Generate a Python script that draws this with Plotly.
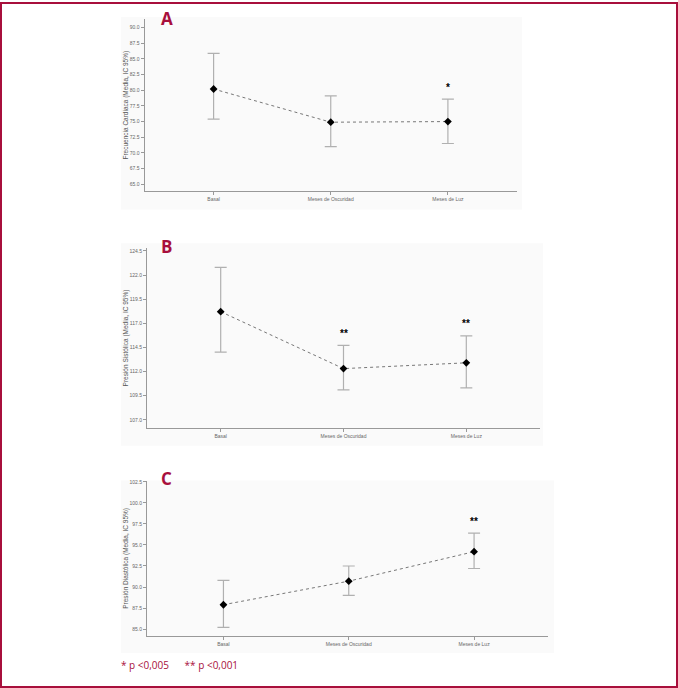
import plotly.graph_objects as go

categories = ["Basal", "Meses de Oscuridad", "Meses de Luz"]

# Panel A: Frecuencia Cardiaca
fc_mean = [80.2, 74.9, 75.0]
fc_low = [75.4, 71.0, 71.5]
fc_high = [85.9, 79.1, 78.6]
fc_sig = ["", "", "*"]

# Panel B: Presión Sistólica
ps_mean = [118.2, 112.3, 112.9]
ps_low = [114.0, 110.1, 110.3]
ps_high = [122.8, 114.7, 115.7]
ps_sig = ["", "**", "**"]

# Panel C: Presión Diastólica
pd_mean = [87.9, 90.7, 94.2]
pd_low = [85.2, 89.0, 92.2]
pd_high = [90.8, 92.5, 96.4]
pd_sig = ["", "", "**"]

panels = [
    dict(letter="A", title="Frecuencia Cardiaca (Media, IC 95%)", mean=fc_mean, low=fc_low, high=fc_high, sig=fc_sig,
         xdom=(144.5, 517), ydom=(17, 190), yrange=(63.84, 91.39), tick0=65, xr=(-0.59, 2.59),
         bg=(121, 15, 522, 208), lpos=(167, 17)),
    dict(letter="B", title="Presión Sistólica (Media, IC 95%)", mean=ps_mean, low=ps_low, high=ps_high, sig=ps_sig,
         xdom=(147, 540), ydom=(247, 427), yrange=(106.17, 124.77), tick0=107, xr=(-0.6, 2.6),
         bg=(121, 242, 543, 445), lpos=(166, 245)),
    dict(letter="C", title="Presión Diastólica (Media, IC 95%)", mean=pd_mean, low=pd_low, high=pd_high, sig=pd_sig,
         xdom=(147, 548), ydom=(480, 636), yrange=(84.17, 102.64), tick0=85, xr=(-0.61, 2.59),
         bg=(121, 480, 554, 653), lpos=(166, 478)),
]

W, H = 678, 688
def px(x):
    return x / W
def py(y):
    return 1 - y / H

CRIMSON = "#a80f3c"
fig = go.Figure()
shapes = []
annotations = []

for i, p in enumerate(panels):
    n = "" if i == 0 else str(i + 1)
    xa, ya = "x" + n, "y" + n
    fig.add_trace(go.Scatter(
        x=categories, y=p["mean"], xaxis=xa, yaxis=ya, mode="lines+markers",
        line=dict(color="#777777", width=1, dash="dot"),
        marker=dict(symbol="diamond", size=6, color="black"),
        error_y=dict(type="data", symmetric=False,
                     array=[h - m for h, m in zip(p["high"], p["mean"])],
                     arrayminus=[m - l for m, l in zip(p["mean"], p["low"])],
                     color="#b0b0b0", thickness=1.2, width=6),
        showlegend=False, hoverinfo="skip"))
    axis_common = dict(showline=True, linecolor="#999999", linewidth=1, ticks="outside",
                       ticklen=3, tickcolor="#999999", showgrid=False, zeroline=False,
                       tickfont=dict(size=5, color="#666666", family="Liberation Sans"))
    fig.update_layout(**{
        ("xaxis" + n): dict(domain=[px(p["xdom"][0]), px(p["xdom"][1])], anchor=ya,
                            type="category", range=list(p["xr"]), **axis_common),
        ("yaxis" + n): dict(domain=[py(p["ydom"][1]), py(p["ydom"][0])], anchor=xa,
                            range=list(p["yrange"]), tick0=p["tick0"], dtick=2.5, tickformat=".1f",
                            title=dict(text=p["title"], font=dict(size=6.5, color="#555555", family="Liberation Sans"),
                                       standoff=0),
                            **axis_common),
    })
    for c, h, s in zip(categories, p["high"], p["sig"]):
        if s:
            annotations.append(dict(x=c, y=h, xref=xa, yref=ya, text="<b>" + s + "</b>", showarrow=False,
                                    yanchor="middle", yshift=12,
                                    font=dict(size=10, color="black", family="Liberation Sans")))
    bx0, by0, bx1, by1 = p["bg"]
    shapes.append(dict(type="rect", xref="paper", yref="paper", x0=px(bx0), x1=px(bx1), y0=py(by1), y1=py(by0),
                       fillcolor="#fafafa", line=dict(width=0), layer="below"))
    annotations.append(dict(x=px(p["lpos"][0]), y=py(p["lpos"][1]), xref="paper", yref="paper",
                            text="<b>" + p["letter"] + "</b>", showarrow=False, xanchor="center", yanchor="middle",
                            font=dict(size=17, color=CRIMSON, family="Open Sans")))

annotations.append(dict(x=px(119), y=py(665), xref="paper", yref="paper",
                        text="* p &lt;0,005&nbsp;&nbsp;&nbsp;&nbsp;&nbsp; ** p &lt;0,001", showarrow=False,
                        xanchor="left", yanchor="middle",
                        font=dict(size=10, color=CRIMSON, family="Open Sans")))

shapes.append(dict(type="rect", xref="paper", yref="paper", x0=px(1), x1=px(677), y0=py(687), y1=py(1),
                   line=dict(color=CRIMSON, width=2), fillcolor="rgba(0,0,0,0)", layer="above"))

fig.update_layout(width=W, height=H, margin=dict(l=0, r=0, t=0, b=0),
                  paper_bgcolor="white", plot_bgcolor="rgba(0,0,0,0)",
                  shapes=shapes, annotations=annotations)

fig.write_html("out.html", config={"displayModeBar": False},
               post_script="document.body.style.margin='0px';document.body.style.overflow='hidden';")
